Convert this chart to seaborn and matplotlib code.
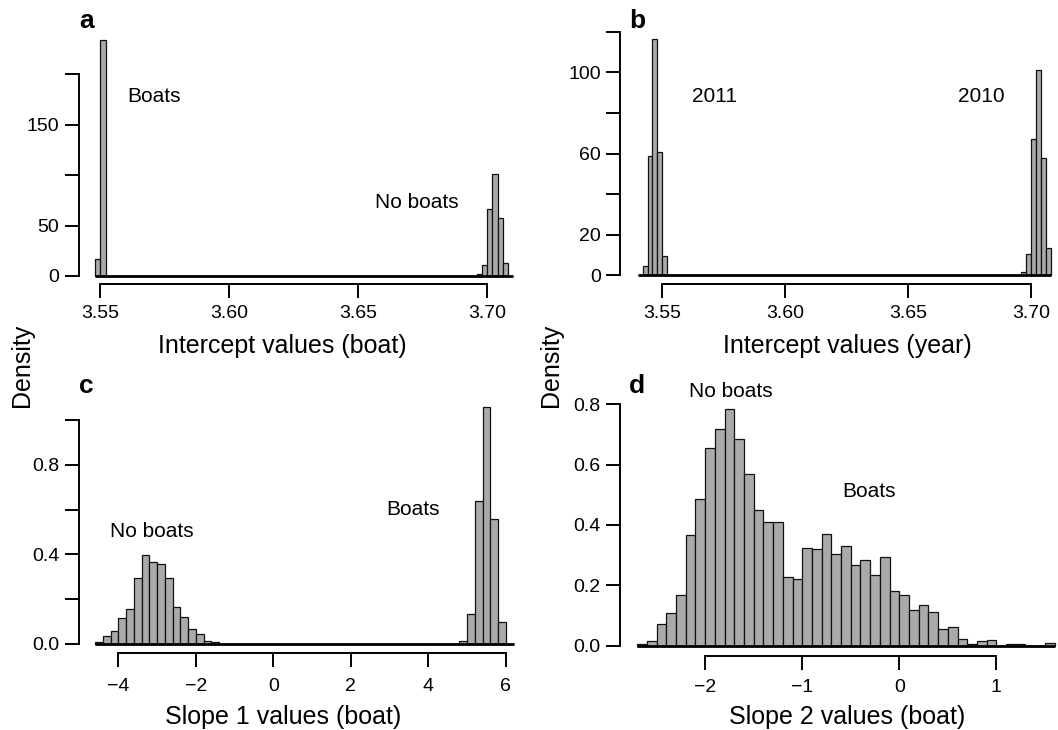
import numpy as np
import pandas as pd
import matplotlib
matplotlib.use("Agg")
import matplotlib.pyplot as plt
import seaborn as sns

# ---------------- data (densities) ----------------
# panel a: intercept values (boat)
a_range = (3.548, 3.710)
a_binwidth = 0.002
a_bin_left = [3.548, 3.550, 3.696, 3.698, 3.700, 3.702, 3.704, 3.706]
a_density = [16.5, 233.6, 1.5, 10.5, 66.4, 101.0, 57.5, 12.8]
a_xticks = [3.55, 3.60, 3.65, 3.70]
a_xticklabels = ["3.55", "3.60", "3.65", "3.70"]
a_yticks = [0, 50, 100, 150, 200]
a_yticklabels = ["0", "50", "", "150", ""]

# panel b: intercept values (year)
b_range = (3.540, 3.708)
b_binwidth = 0.002
b_bin_left = [3.542, 3.544, 3.546, 3.548, 3.550,
              3.696, 3.698, 3.700, 3.702, 3.704, 3.706]
b_density = [4.7, 58.6, 116.4, 60.7, 9.7,
             1.5, 10.5, 67.0, 101.3, 57.6, 13.3]
b_xticks = [3.55, 3.60, 3.65, 3.70]
b_xticklabels = ["3.55", "3.60", "3.65", "3.70"]
b_yticks = [0, 20, 40, 60, 80, 100, 120]
b_yticklabels = ["0", "20", "", "60", "", "100", ""]

# panel c: slope 1 values (boat)
c_range = (-4.6, 6.2)
c_binwidth = 0.2
c_bin_left = [-4.6, -4.4, -4.2, -4.0, -3.8, -3.6, -3.4, -3.2, -3.0, -2.8,
              -2.6, -2.4, -2.2, -2.0, -1.8, -1.6,
              4.8, 5.0, 5.2, 5.4, 5.6, 5.8]
c_density = [0.009, 0.037, 0.060, 0.118, 0.156, 0.296, 0.398, 0.365, 0.358, 0.296,
             0.165, 0.122, 0.066, 0.043, 0.013, 0.009,
             0.012, 0.134, 0.640, 1.058, 0.559, 0.097]
c_xticks = [-4, -2, 0, 2, 4, 6]
c_xticklabels = ["\u22124", "\u22122", "0", "2", "4", "6"]
c_yticks = [0.0, 0.2, 0.4, 0.6, 0.8, 1.0]
c_yticklabels = ["0.0", "", "0.4", "", "0.8", ""]

# panel d: slope 2 values (boat)
d_range = (-2.7, 1.6)
d_binwidth = 0.1
d_bin_left = [-2.7, -2.6, -2.5, -2.4, -2.3, -2.2, -2.1, -2.0, -1.9, -1.8,
              -1.7, -1.6, -1.5, -1.4, -1.3, -1.2, -1.1, -1.0, -0.9, -0.8,
              -0.7, -0.6, -0.5, -0.4, -0.3, -0.2, -0.1, 0.0, 0.1, 0.2,
              0.3, 0.4, 0.5, 0.6, 0.7, 0.8, 0.9, 1.1, 1.2, 1.5]
d_density = [0.006, 0.015, 0.071, 0.110, 0.167, 0.366, 0.485, 0.655, 0.719, 0.783,
             0.684, 0.569, 0.449, 0.410, 0.410, 0.229, 0.220, 0.325, 0.320, 0.369,
             0.305, 0.329, 0.268, 0.285, 0.235, 0.295, 0.182, 0.169, 0.119, 0.136,
             0.113, 0.054, 0.061, 0.021, 0.005, 0.015, 0.020, 0.006, 0.006, 0.010]
d_xticks = [-2, -1, 0, 1]
d_xticklabels = ["\u22122", "\u22121", "0", "1"]
d_yticks = [0.0, 0.2, 0.4, 0.6, 0.8]
d_yticklabels = ["0.0", "0.2", "0.4", "0.6", "0.8"]

# ---------------- styling ----------------
sns.set_theme(style="ticks")
plt.rcParams["font.family"] = ["Liberation Sans", "DejaVu Sans"]
plt.rcParams["axes.unicode_minus"] = True
for key in ["text.color", "axes.labelcolor", "xtick.color", "ytick.color",
            "xtick.labelcolor", "ytick.labelcolor", "axes.edgecolor"]:
    plt.rcParams[key] = "black"

W, H = 1058, 730
fig = plt.figure(figsize=(W / 100, H / 100), dpi=100)

BAR_COLOR = "#aaaaaa"
SPINE_LW = 1.4
TICK_FS = 14
LAB_FS = 18
ANN_FS = 15


def px_axes(left, right, top, bottom):
    return fig.add_axes([left / W, 1 - bottom / H, (right - left) / W, (bottom - top) / H])


def panel(ax, rng, bw, lefts, dens, xlim, ylim, xticks, xtl, yticks, ytl, xpad):
    nb = int(round((rng[1] - rng[0]) / bw))
    edges = [float(e) for e in np.linspace(rng[0], rng[1], nb + 1)]
    df = pd.DataFrame({"value": np.asarray(lefts, dtype=float) + bw / 2,
                       "density": np.asarray(dens, dtype=float)})
    sns.histplot(data=df, x="value", weights="density", bins=edges, stat="count",
                 color=BAR_COLOR, edgecolor="#111111", linewidth=0.9,
                 alpha=1, ax=ax)
    ax.hlines(0, edges[0], edges[-1], color="black", lw=2.0, zorder=3)
    ax.set_xlim(*xlim)
    ax.set_ylim(*ylim)
    ax.set_xticks(xticks)
    ax.set_xticklabels(xtl)
    ax.set_yticks(yticks)
    ax.set_yticklabels(ytl)
    ax.set_xlabel("")
    ax.set_ylabel("")
    for s in ["top", "right"]:
        ax.spines[s].set_visible(False)
    for s in ["left", "bottom"]:
        ax.spines[s].set_linewidth(SPINE_LW)
        ax.spines[s].set_color("black")
    ax.spines["bottom"].set_bounds(xticks[0], xticks[-1])
    ax.spines["left"].set_bounds(yticks[0], yticks[-1])
    ax.tick_params(axis="both", direction="out", length=10, width=SPINE_LW,
                   colors="black", labelcolor="black", labelsize=TICK_FS)
    ax.tick_params(axis="x", pad=xpad)
    ax.tick_params(axis="y", pad=4)
    ax.patch.set_alpha(0)
    ax.grid(False)


# panel a
ax_a = px_axes(78.8, 520, 30, 284.3)
panel(ax_a, a_range, a_binwidth, a_bin_left, a_density,
      (3.541626, 3.71267), (-8.22, 243.6),
      a_xticks, a_xticklabels, a_yticks, a_yticklabels, 5.0)
ax_a.text(3.5606, 172.3, "Boats", fontsize=ANN_FS, ha="left", va="baseline")
ax_a.text(3.6565, 67.3, "No boats", fontsize=ANN_FS, ha="left", va="baseline")

# panel b
ax_b = px_axes(620.3, 1056, 25, 284.3)
panel(ax_b, b_range, b_binwidth, b_bin_left, b_density,
      (3.532908, 3.71022), (-4.43, 123.3),
      b_xticks, b_xticklabels, b_yticks, b_yticklabels, 5.0)
ax_b.text(3.5621, 85.4, "2011", fontsize=ANN_FS, ha="left", va="baseline")
ax_b.text(3.6703, 85.4, "2010", fontsize=ANN_FS, ha="left", va="baseline")

# panel c
ax_c = px_axes(78.8, 520, 400, 653.3)
panel(ax_c, c_range, c_binwidth, c_bin_left, c_density,
      (-5.022, 6.364), (-0.04157, 1.0905),
      c_xticks, c_xticklabels, c_yticks, c_yticklabels, 8.0)
ax_c.text(-4.217, 0.478, "No boats", fontsize=ANN_FS, ha="left", va="baseline")
ax_c.text(2.919, 0.5765, "Boats", fontsize=ANN_FS, ha="left", va="baseline")

# panel d
ax_d = px_axes(620, 1058, 395, 655.7)
panel(ax_d, d_range, d_binwidth, d_bin_left, d_density,
      (-2.8778, 1.635), (-0.03314, 0.8308),
      d_xticks, d_xticklabels, d_yticks, d_yticklabels, 7.0)
ax_d.text(-2.171, 0.824, "No boats", fontsize=ANN_FS, ha="left", va="baseline")
ax_d.text(-0.593, 0.4928, "Boats", fontsize=ANN_FS, ha="left", va="baseline")


def ftext(xpx, ypx, s, **kw):
    fig.text(xpx / W, 1 - ypx / H, s, **kw)


# x axis labels
ftext(282, 353, "Intercept values (boat)", fontsize=LAB_FS, ha="center", va="baseline")
ftext(847, 353, "Intercept values (year)", fontsize=LAB_FS, ha="center", va="baseline")
ftext(282.7, 724, "Slope 1 values (boat)", fontsize=LAB_FS, ha="center", va="baseline")
ftext(847, 724, "Slope 2 values (boat)", fontsize=LAB_FS, ha="center", va="baseline")

# shared y labels
ftext(22, 365, "Density", fontsize=LAB_FS, rotation=90, ha="center", va="center")
ftext(551, 365, "Density", fontsize=LAB_FS, rotation=90, ha="center", va="center")

# panel letters
for xp, yp, letter in [(79.5, 28, "a"), (629.5, 28, "b"), (79.5, 393, "c"), (628.4, 393, "d")]:
    ftext(xp, yp, letter, fontsize=19, fontweight="bold", ha="left", va="baseline")

fig.savefig("out.png", dpi=100)
